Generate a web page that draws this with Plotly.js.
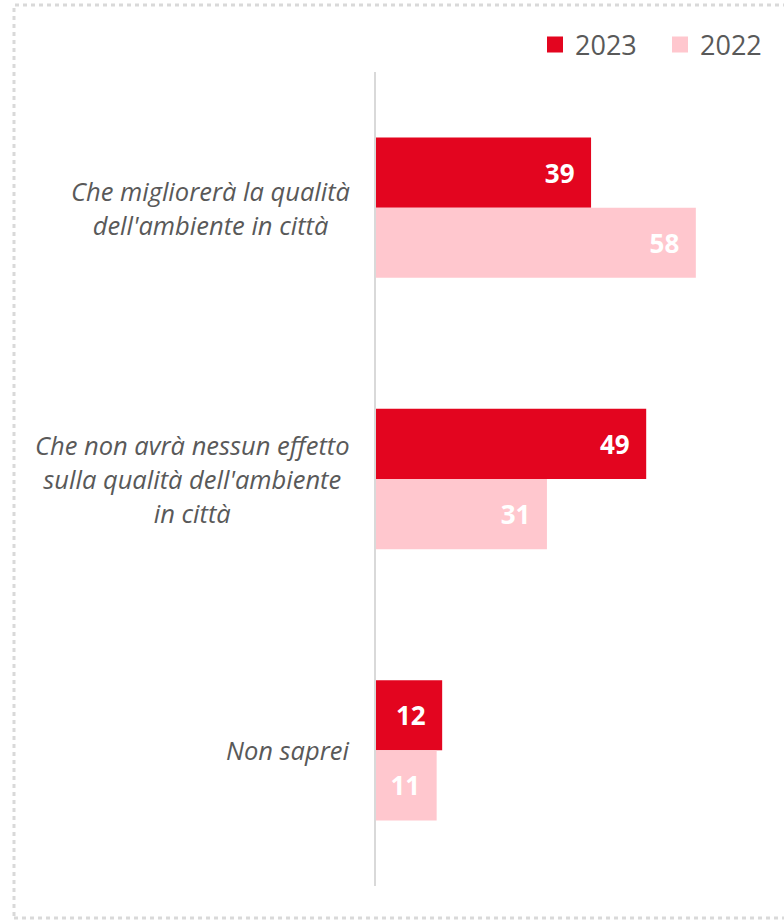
<!DOCTYPE html>
<html><head><meta charset="utf-8">
<script src="https://cdn.plot.ly/plotly-3.0.1.min.js"></script>
<style>html,body{margin:0;padding:0;background:#fff}#chart{width:784px;height:922px}</style>
</head><body><div id="chart"></div>
<script>
const categories = [
  "Che migliorerà la qualità<br>dell'ambiente in città",
  "Che non avrà nessun effetto<br>sulla qualità dell'ambiente<br>in città",
  "Non saprei"
];
const seriesNames = ["2023", "2022"];
const values2023 = [39, 49, 12];
const values2022 = [58, 31, 11];
const colors = ["#E3051F", "#FFC7CE"];

const ids = categories.map((c, i) => "c" + i);
const bars = [values2023, values2022].map((vals, k) => ({
  type: "bar", orientation: "h", name: seriesNames[k], showlegend: false,
  y: ids, x: vals,
  marker: {color: colors[k], line: {width: 0}},
  text: vals.map(v => v + "\u00a0\u00a0"),
  textposition: "inside", insidetextanchor: "end",
  textfont: {family: "Open Sans, sans-serif", size: 26, color: "#ffffff", weight: "bold"},
  hoverinfo: "skip"
}));
const legendItems = seriesNames.map((n, k) => ({
  type: "scatter", mode: "markers", name: n, x: [null], y: [null],
  marker: {symbol: "square", size: 18, color: colors[k]}, hoverinfo: "skip"
}));

const annotations = categories.map((c, i) => ({
  xref: "paper", yref: "y", x: 0, y: ids[i], xanchor: "right", yanchor: "middle",
  xshift: -24, align: "center", showarrow: false,
  text: c.split("<br>").map(s => '<span style="font-size:25.5px"><i>' + s + '</i></span>').join("<br>"),
  font: {family: "Open Sans, sans-serif", size: 26, color: "#595959"}
}));

const layout = {
  width: 784, height: 922,
  margin: {l: 376, r: 22, t: 72, b: 36},
  paper_bgcolor: "#ffffff", plot_bgcolor: "#ffffff",
  barmode: "group", bargap: 0.483, bargroupgap: 0,
  showlegend: true,
  legend: {orientation: "h", xref: "container", yref: "container", x: 535 / 784, xanchor: "left",
    y: 1 - 45 / 922, yanchor: "middle",
    font: {family: "Open Sans, sans-serif", size: 27, color: "#595959"}, traceorder: "normal",
    itemwidth: 30, entrywidth: 80, tracegroupgap: 0, bgcolor: "rgba(0,0,0,0)"},
  xaxis: {range: [0, 70], showgrid: false, zeroline: false, showticklabels: false, showline: false, fixedrange: true},
  yaxis: {autorange: "reversed", range: [2.5, -0.5], showgrid: false, zeroline: false, showticklabels: false,
    showline: true, linecolor: "#d9d9d9", linewidth: 2, ticks: "", fixedrange: true},
  annotations: annotations,
  shapes: [{type: "rect", xref: "paper", yref: "paper",
    x0: (14 - 376) / 386, x1: (788 - 376) / 386, y0: (886 - 918) / 814, y1: (886 - 5) / 814,
    line: {color: "#d9d9d9", width: 3, dash: "4px,4px"}, layer: "below"}]
};
Plotly.newPlot("chart", bars.concat(legendItems), layout, {displayModeBar: false, staticPlot: true});
</script></body></html>
